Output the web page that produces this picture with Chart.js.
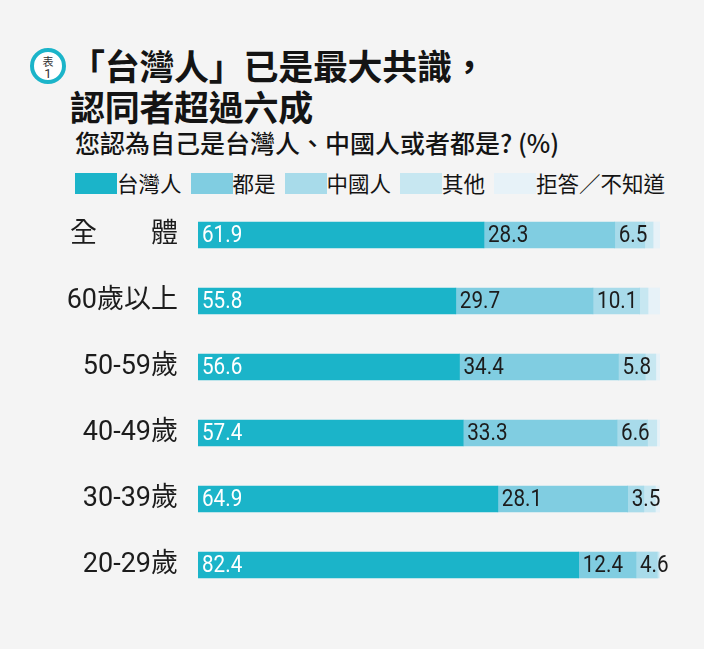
<!DOCTYPE html>
<html>
<head>
<meta charset="utf-8">
<script src="https://cdn.jsdelivr.net/npm/chart.js@4.4.1/dist/chart.umd.min.js"></script>
<style>
  * { box-sizing: border-box; }
  html, body {
    margin: 0;
    width: 704px;
    height: 649px;
    background: #f4f4f4;
    font-family: "Noto Sans CJK TC", "Noto Sans", sans-serif;
    color: #141414;
    overflow: hidden;
  }
  .badge {
    position: absolute;
    left: 30px;
    top: 48px;
    width: 36px;
    height: 36px;
    border: 4px solid #1bb4c9;
    border-radius: 50%;
    background: #fff;
    text-align: center;
    color: #333;
    font-size: 11px;
    line-height: 12px;
    padding-top: 3px;
  }
  .badge span { display: block; font-family: Roboto, sans-serif; font-size: 13px; line-height: 13px; }
  .title {
    position: absolute;
    left: 70px;
    top: 44px;
    font-size: 35px;
    font-weight: 700;
    line-height: 41px;
    letter-spacing: -0.3px;
  }
  .sub {
    position: absolute;
    left: 75px;
    top: 126px;
    font-size: 25px;
    font-weight: 500;
    line-height: 32px;
  }
  .legend {
    position: absolute;
    left: 75px;
    top: 170px;
    display: flex;
    gap: 9px;
    font-size: 21.5px;
    line-height: 26px;
  }
  .legend .item { display: flex; align-items: center; }
  .legend .box { width: 42px; height: 21px; }
  #chart { position: absolute; left: 0; top: 202px; }
</style>
</head>
<body>
<div class="badge">表<span>1</span></div>
<div class="title">「台灣人」已是最大共識，<br>認同者超過六成</div>
<div class="sub">您認為自己是台灣人、中國人或者都是? (%)</div>
<div class="legend" id="legend"></div>
<canvas id="chart" width="704" height="396"></canvas>
<script>
const groups = ["全　　體", "60歲以上", "50-59歲", "40-49歲", "30-39歲", "20-29歲"];
const seriesNames = ["台灣人", "都是", "中國人", "其他", "拒答／不知道"];
const colors = ["#1bb4c9", "#80cde1", "#a8dbea", "#c7e7f1", "#e7f2f8"];

const taiwanese = [61.9, 55.8, 56.6, 57.4, 64.9, 82.4];
const both = [28.3, 29.7, 34.4, 33.3, 28.1, 12.4];
const chinese = [6.5, 10.1, 5.8, 6.6, 3.5, 4.6];
const other = [1.8, 1.8, 2.3, 2.0, 2.5, 0.4];
const refused = [1.5, 2.6, 0.9, 0.7, 1.0, 0.2];

const values = [taiwanese, both, chinese, other, refused];
const labelled = [true, true, true, false, false];

document.getElementById("legend").innerHTML = seriesNames
  .map((name, i) => `<div class="item"><div class="box" style="background:${colors[i]}"></div>${name}</div>`)
  .join("");

const valueLabels = {
  id: "valueLabels",
  afterDatasetsDraw(chart) {
    const ctx = chart.ctx;
    ctx.save();
    ctx.font = "400 23.5px Roboto, sans-serif";
    ctx.textBaseline = "middle";
    ctx.textAlign = "left";
    chart.data.datasets.forEach((ds, di) => {
      if (!labelled[di]) return;
      chart.getDatasetMeta(di).data.forEach((bar, i) => {
        const left = Math.min(bar.x, bar.base);
        ctx.fillStyle = di === 0 ? "#ffffff" : "#1c1c1c";
        ctx.save();
        ctx.translate(left + 4, bar.y + 1);
        ctx.scale(0.88, 1);
        ctx.fillText(ds.data[i].toFixed(1), 0, 0);
        ctx.restore();
      });
    });
    ctx.restore();
  }
};

new Chart(document.getElementById("chart"), {
  type: "bar",
  data: {
    labels: groups,
    datasets: seriesNames.map((name, i) => ({
      label: name,
      data: values[i],
      backgroundColor: colors[i],
      borderWidth: 0,
      barThickness: 26
    }))
  },
  options: {
    indexAxis: "y",
    responsive: false,
    animation: false,
    devicePixelRatio: 1,
    layout: { padding: { left: 0, right: 44, top: 0, bottom: 0 } },
    plugins: {
      legend: { display: false },
      tooltip: { enabled: false }
    },
    scales: {
      x: {
        stacked: true,
        min: 0,
        max: 100,
        display: false
      },
      y: {
        stacked: true,
        grid: { display: false, drawTicks: false },
        border: { display: false },
        ticks: {
          padding: 20,
          color: "#1c1c1c",
          font: { family: "Roboto, 'Noto Sans CJK TC', sans-serif", size: 27 }
        },
        afterFit(scale) {
          scale.width = 198;
          scale.paddingTop = 0;
          scale.paddingBottom = 0;
        }
      }
    }
  },
  plugins: [valueLabels]
});
</script>
</body>
</html>
